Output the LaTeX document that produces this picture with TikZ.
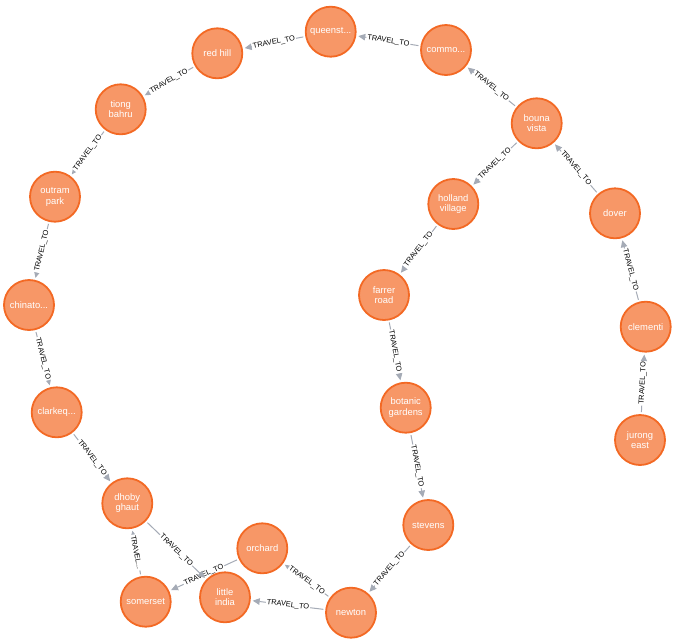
\documentclass[tikz,border=0pt]{standalone}
\usepackage{fontspec}
\setmainfont{Liberation Sans}
\usetikzlibrary{arrows.meta,backgrounds}
\definecolor{nodefill}{HTML}{F79767}
\definecolor{nodeborder}{HTML}{F36924}
\definecolor{edgegray}{HTML}{A5ABB6}
\tikzset{
  station/.style={circle, fill=nodefill, draw=nodeborder, line width=1.8pt,
    minimum size=50pt, inner sep=0pt, align=center, text=white,
    font=\fontsize{9.4}{10.5}\selectfont},
  rel/.style={draw=edgegray, line width=1pt, -{Triangle[length=7pt,width=6.5pt]},
    shorten >=2pt, shorten <=2pt},
  rlabel/.style={midway, sloped, fill=white, inner sep=1pt, text=black,
    font=\fontsize{7.4}{8}\selectfont}
}
\begin{document}
\begin{tikzpicture}[x=1pt,y=-1pt]
\useasboundingbox (0,0) rectangle (675,641);
\node[station] (queenst) at (330.7,31.7) {queenst...};
\node[station] (commo) at (446,50) {commo...};
\node[station] (redhill) at (217.3,53.3) {red hill};
\node[station] (tiong) at (120.7,109.3) {tiong\\bahru};
\node[station] (bouna) at (536.7,123.3) {bouna\\vista};
\node[station] (outram) at (55,196.7) {outram\\park};
\node[station] (holland) at (453.3,204) {holland\\village};
\node[station] (dover) at (615,213.3) {dover};
\node[station] (chinato) at (29,305) {chinato...};
\node[station] (farrer) at (384,295) {farrer\\road};
\node[station] (clementi) at (645.7,326.7) {clementi};
\node[station] (botanic) at (405.7,407.7) {botanic\\gardens};
\node[station] (clarkeq) at (56.7,412.3) {clarkeq...};
\node[station] (jurong) at (640,440) {jurong\\east};
\node[station] (dhoby) at (127.3,503.3) {dhoby\\ghaut};
\node[station] (stevens) at (428.3,525) {stevens};
\node[station] (orchard) at (262.3,548.3) {orchard};
\node[station] (somerset) at (145.7,601.7) {somerset};
\node[station] (little) at (225,597.3) {little\\india};
\node[station] (newton) at (351,612.7) {newton};
\begin{pgfonlayer}{background}
\draw[rel] (commo) -- node[rlabel]{TRAVEL\_TO} (queenst);
\draw[rel] (queenst) -- node[rlabel]{TRAVEL\_TO} (redhill);
\draw[rel] (redhill) -- node[rlabel]{TRAVEL\_TO} (tiong);
\draw[rel] (tiong) -- node[rlabel]{TRAVEL\_TO} (outram);
\draw[rel] (outram) -- node[rlabel]{TRAVEL\_TO} (chinato);
\draw[rel] (chinato) -- node[rlabel]{TRAVEL\_TO} (clarkeq);
\draw[rel] (clarkeq) -- node[rlabel]{TRAVEL\_TO} (dhoby);
\draw[rel] (bouna) -- node[rlabel]{TRAVEL\_TO} (commo);
\draw[rel] (dover) -- node[rlabel]{TRAVEL\_TO} (bouna);
\draw[rel] (clementi) -- node[rlabel]{TRAVEL\_TO} (dover);
\draw[rel] (jurong) -- node[rlabel]{TRAVEL\_TO} (clementi);
\draw[rel] (bouna) -- node[rlabel]{TRAVEL\_TO} (holland);
\draw[rel] (holland) -- node[rlabel]{TRAVEL\_TO} (farrer);
\draw[rel] (farrer) -- node[rlabel]{TRAVEL\_TO} (botanic);
\draw[rel] (botanic) -- node[rlabel]{TRAVEL\_TO} (stevens);
\draw[rel] (stevens) -- node[rlabel]{TRAVEL\_TO} (newton);
\draw[rel] (newton) -- node[rlabel]{TRAVEL\_TO} (little);
\draw[rel] (newton) -- node[rlabel]{TRAVEL\_TO} (orchard);
\draw[rel] (orchard) -- node[rlabel]{TRAVEL\_TO} (somerset);
\draw[rel] (somerset) -- node[rlabel]{TRAVEL...} (dhoby);
\draw[rel] (dhoby) -- node[rlabel]{TRAVEL\_TO} (little);
\end{pgfonlayer}
\end{tikzpicture}
\end{document}
